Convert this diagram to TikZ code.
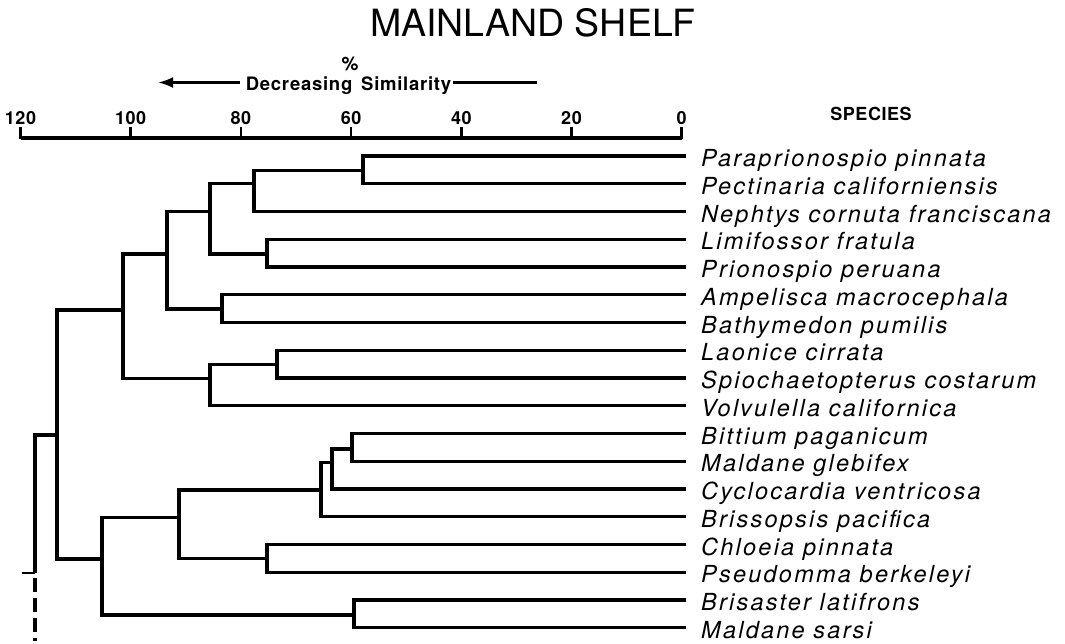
\documentclass[tikz,border=0pt]{standalone}
\usepackage{fontspec}
\setmainfont{TeX Gyre Heros}
\newfontfamily\spfont{TeX Gyre Heros}[LetterSpace=9.5]
\newfontfamily\tickfont{TeX Gyre Heros}[LetterSpace=3]
\newfontfamily\labfont{TeX Gyre Heros}[LetterSpace=4]
\newfontfamily\spcfont{TeX Gyre Heros}[LetterSpace=3]
\usetikzlibrary{arrows.meta}
\tikzset{
  br/.style={line width=3.3pt, line join=miter},
  axisline/.style={line width=3.8pt},
  ticklab/.style={anchor=base, inner sep=0pt, font=\tickfont\bfseries\fontsize{18}{20}\selectfont},
  sp/.style={anchor=base west, inner sep=0pt, font=\spfont\itshape\fontsize{23.5}{27}\selectfont},
}
\newcommand\dbranch[3]{\draw[br] (#1) -- (#1 -| #2) -- (#3 -| #2) -- (#3);}
\begin{document}
\begin{tikzpicture}[x=1pt,y=-1pt]
\useasboundingbox (0,0) rectangle (1065,643);
% title
\node[inner sep=0pt, font=\fontsize{37.5}{40}\selectfont] (title) at (533,22.7) {MAINLAND SHELF};
% header
\node[anchor=base, inner sep=0pt, font=\spcfont\bfseries\fontsize{18}{20}\selectfont] (species) at (871,120) {SPECIES};
\node[anchor=base, inner sep=3pt, font=\labfont\bfseries\fontsize{18.5}{20}\selectfont] (dec) at (348.5,90) {Decreasing\hspace{3pt} Similarity};
\node[anchor=base, inner sep=0pt, font=\bfseries\fontsize{19}{21}\selectfont] (pct) at (350,70) {\%};
\coordinate (arrtip) at (158,82.5);
\coordinate (arrL) at (240,82.5);
\coordinate (arrR1) at (453,82.5);
\coordinate (arrR2) at (537,82.5);
\draw[line width=2.6pt, -{Latex[length=15pt,width=11pt]}] (arrL) -- (arrtip);
\draw[line width=2.4pt] (arrR1) -- (arrR2);
% axis
\coordinate (ax0) at (681.7,137.7);
\coordinate (ax120) at (20.5,137.7);
\draw[axisline] (ax120) -- (ax0);
\foreach \v in {0,20,40,60,80,100,120}{
  \coordinate (tb\v) at ({681.7-5.51*\v},139);
  \coordinate (tt\v) at ({681.7-5.51*\v},126.5);
  \draw[line width=2.6pt] (tb\v) -- (tt\v);
  \node[ticklab] (tl\v) at ({681.7-5.51*\v},124.3) {\v};
}
% leaves
\foreach \i/\t in {1/Paraprionospio pinnata,2/Pectinaria californiensis,3/Nephtys cornuta franciscana,4/Limifossor fratula,5/Prionospio peruana,6/Ampelisca macrocephala,7/Bathymedon pumilis,8/Laonice cirrata,9/Spiochaetopterus costarum,10/Volvulella californica,11/Bittium paganicum,12/Maldane glebifex,13/Cyclocardia ventricosa,14/Brissopsis pacifica,15/Chloeia pinnata,16/Pseudomma berkeleyi,17/Brisaster latifrons,18/Maldane sarsi}{
  \node[sp] (L\i) at (701,{156+27.75*(\i-1)+10.5}) {\t};
  \coordinate (e\i) at (686,{156+27.75*(\i-1)});
}
% junctions (x, attachment y)
\coordinate (J1) at (363,170.7);
\coordinate (J2) at (254,183.7);
\coordinate (J3) at (267,254);
\coordinate (J4) at (210,211.7);
\coordinate (J5) at (222,309);
\coordinate (J6) at (167,254);
\coordinate (J7) at (277,364.5);
\coordinate (J8) at (210,378.5);
\coordinate (J9) at (123,310);
\coordinate (J10) at (352,449);
\coordinate (J11) at (332,462.3);
\coordinate (J12) at (321,490);
\coordinate (J13) at (267,558.7);
\coordinate (J14) at (179,517.5);
\coordinate (J15) at (354,615);
\coordinate (J16) at (102,559);
\coordinate (J17) at (57,435);
\dbranch{e1}{J1}{e2}
\dbranch{J1}{J2}{e3}
\dbranch{e4}{J3}{e5}
\dbranch{J2}{J4}{J3}
\dbranch{e6}{J5}{e7}
\dbranch{J4}{J6}{J5}
\dbranch{e8}{J7}{e9}
\dbranch{J7}{J8}{e10}
\dbranch{J6}{J9}{J8}
\dbranch{e11}{J10}{e12}
\dbranch{J10}{J11}{e13}
\dbranch{J11}{J12}{e14}
\dbranch{e15}{J13}{e16}
\dbranch{J12}{J14}{J13}
\dbranch{e17}{J15}{e18}
\dbranch{J14}{J16}{J15}
\dbranch{J9}{J17}{J16}
% root
\coordinate (R) at (35,435);
\coordinate (Rb) at (35,573);
\coordinate (Rd0) at (35,578);
\coordinate (Rd) at (35,641);
\coordinate (Rt) at (22,573);
\draw[br] (J17) -- (R) -- (Rb);
\draw[line width=3.4pt, dash pattern=on 14pt off 6pt] (Rd0) -- (Rd);
\draw[line width=2.2pt] (Rt) -- (Rb);
\end{tikzpicture}
\end{document}
